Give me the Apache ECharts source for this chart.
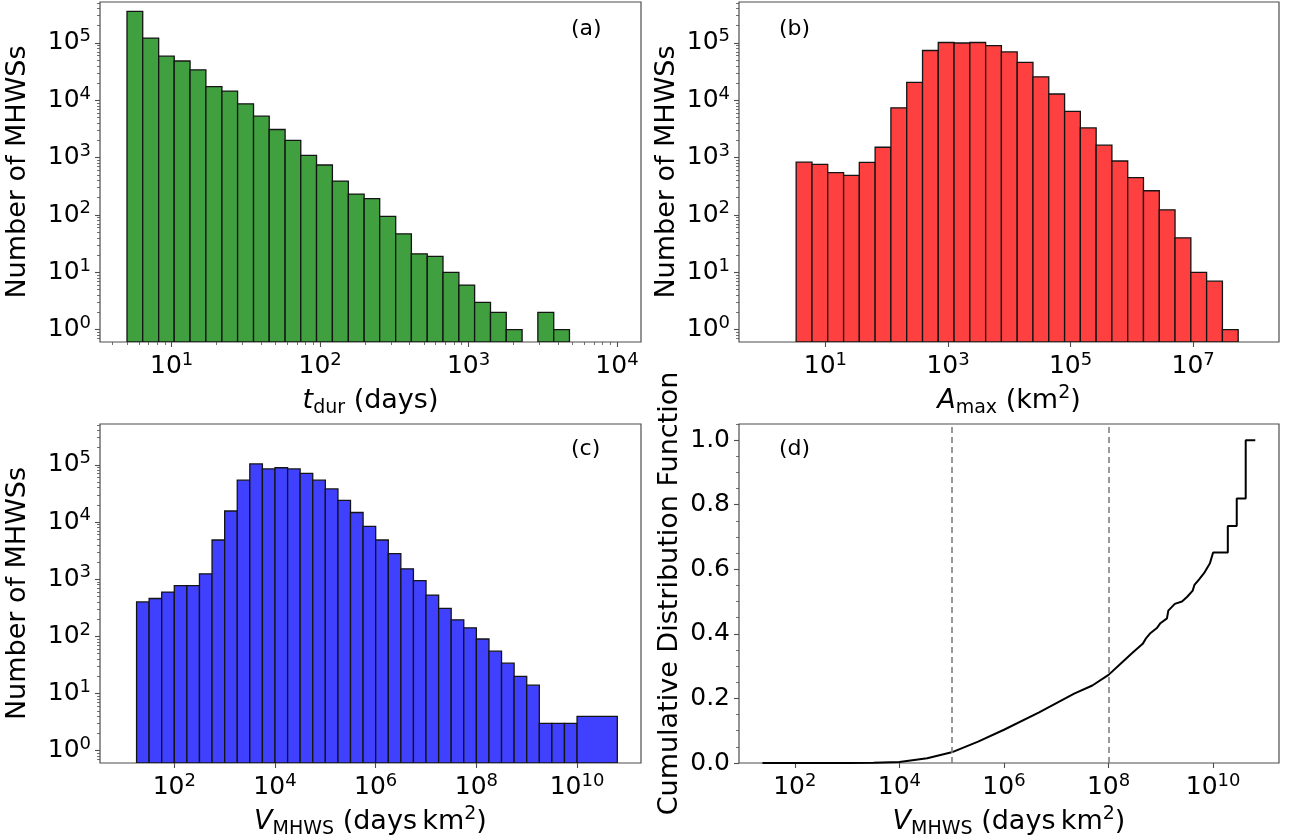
<!DOCTYPE html>
<html>
<head>
<meta charset="utf-8">
<script src="https://cdn.jsdelivr.net/npm/echarts@6.0.0/dist/echarts.min.js"></script>
<style>
html, body {margin:0; padding:0; background:#fff;}
#chart {width:1299px; height:840px;}
</style>
</head>
<body>
<div id="chart"></div>
<script>
// (a) duration histogram: bin edges (days) and counts
var durEdges = [5.0, 6.38, 8.17, 10.4, 13.3, 17.0, 21.8, 27.8, 35.6, 45.4, 58.1, 74.1, 94.6, 121, 155, 198,
    252, 323, 412, 527, 673, 861, 1099, 1406, 1795, 2296, 2931, 3750, 4786];
var durCounts = [356000, 122000, 59000, 48500, 34000, 17400, 14500, 8700, 5300, 3100, 2000, 1100, 745, 390,
    232, 193, 95, 47, 21, 19, 10, 6, 3, 2, 1, 0, 2, 1];

// (b) max area histogram (km2)
var areaEdges = [3.33, 6.04, 10.9, 19.8, 35.7, 64.7, 117, 212, 384, 693, 1256, 2270, 4111, 7430, 13450, 24320,
    44060, 79800, 144200, 261200, 472100, 855000, 1545000, 2799000, 5058000, 9162000, 16560000, 29990000, 54200000];
var areaCounts = [835, 765, 550, 492, 830, 1520, 7400, 20500, 74000, 102000, 100000, 102000, 90000, 70000, 46000,
    25700, 12900, 6400, 3300, 1650, 875, 450, 265, 123, 40, 10, 7, 1];

// (c) volume histogram (days km2)
var volEdges = [1.78e1, 3.16e1, 5.62e1, 1e2, 1.78e2, 3.16e2, 5.62e2, 1e3, 1.78e3, 3.16e3, 5.62e3, 1e4,
    1.78e4, 3.16e4, 5.62e4, 1e5, 1.78e5, 3.16e5, 5.62e5, 1e6, 1.78e6, 3.16e6, 5.62e6, 1e7, 1.78e7, 3.16e7,
    5.62e7, 1e8, 1.78e8, 3.16e8, 5.62e8, 1e9, 1.78e9, 3.16e9, 5.62e9, 1e10, 6.3e10];
var volCounts = [400, 460, 595, 775, 775, 1240, 4850, 15600, 54000, 104000, 85000, 89000, 85000, 71000, 54000,
    38000, 24000, 14700, 8400, 4850, 2800, 1520, 945, 527, 310, 195, 141, 90, 55, 34, 20, 14, 3, 3, 3, 4];

// (d) cumulative distribution of volume
var cdfX = [24, 1000, 3200, 1e4, 3.4e4, 1e5, 3.2e5, 1e6, 4.7e6, 2.2e7, 4.9e7, 1e8, 1.74e8, 2.8e8, 4.5e8,
    5.25e8, 6.3e8, 8.4e8, 9.8e8, 1.31e9, 1.39e9, 1.85e9, 2.54e9, 3.2e9, 4.07e9, 4.4e9, 5.4e9, 6.7e9, 8.7e9,
    1e10, 1.91e10, 1.91e10, 2.83e10, 2.83e10, 4.2e10, 4.2e10, 6.4e10];
var cdfY = [0, 0, 0.001, 0.003, 0.015, 0.033, 0.066, 0.103, 0.157, 0.215, 0.240, 0.273, 0.309, 0.340, 0.369,
    0.387, 0.402, 0.418, 0.433, 0.448, 0.472, 0.493, 0.500, 0.515, 0.534, 0.552, 0.569, 0.588, 0.619,
    0.652, 0.652, 0.734, 0.734, 0.819, 0.819, 1.0, 1.0];
var cdfMarks = [1e5, 1e8];

// tick values
var countTicks = [1, 10, 100, 1000, 10000, 100000];
var durTicks = [10, 100, 1000, 10000];
var areaTicks = [10, 1000, 100000, 10000000];
var volTicks = [100, 1e4, 1e6, 1e8, 1e10];
var cdfTicks = [0, 0.2, 0.4, 0.6, 0.8, 1.0];
var cdfMinor = [0.05, 0.1, 0.15, 0.25, 0.3, 0.35, 0.45, 0.5, 0.55, 0.65, 0.7, 0.75, 0.85, 0.9, 0.95, 1.05];

var FONT = 'DejaVu Sans';
var SPINE = '#4d4d4d';
var yLo = Math.pow(10, -0.215), yHi = Math.pow(10, 5.715);

function logMinor(lo, hi) {
    var out = [];
    for (var e = -1; e < 12; e++) {
        for (var m = 2; m < 10; m++) {
            var v = m * Math.pow(10, e);
            if (v > lo && v < hi) out.push(v);
        }
    }
    return out;
}

function logLabel(v) {
    return '10{sup|' + Math.round(Math.log10(v)) + '}';
}

var labelStyle = {
    color: '#000', fontFamily: FONT, fontSize: 25, lineHeight: 31, margin: 9,
    rich: {sup: {color: '#000', fontFamily: FONT, fontSize: 18, lineHeight: 18, verticalAlign: 'top'}}
};
var nameStyle = {
    color: '#000', fontFamily: FONT, fontSize: 27, lineHeight: 34,
    rich: {
        it: {color: '#000', fontFamily: FONT, fontSize: 27, fontStyle: 'italic', lineHeight: 34},
        sub: {color: '#000', fontFamily: FONT, fontSize: 19, lineHeight: 19, verticalAlign: 'bottom'},
        sup: {color: '#000', fontFamily: FONT, fontSize: 19, lineHeight: 19, verticalAlign: 'top'}
    }
};

function mainAxis(grid, type, min, max, ticks, fmt, name, gap, pos) {
    return {
        gridIndex: grid, type: type, min: min, max: max, position: pos,
        name: name, nameLocation: 'middle', nameGap: gap, nameMoveOverlap: false, nameTextStyle: nameStyle,
        axisLine: {show: false}, splitLine: {show: false},
        axisTick: {show: true, length: 5, customValues: ticks, lineStyle: {color: SPINE, width: 1.1}},
        axisLabel: Object.assign({customValues: ticks, formatter: fmt}, labelStyle)
    };
}
function minorAxis(grid, type, min, max, ticks, pos) {
    return {
        gridIndex: grid, type: type, min: min, max: max, position: pos,
        axisLine: {show: false}, splitLine: {show: false}, axisLabel: {show: false},
        axisTick: {show: true, length: 3, customValues: ticks, lineStyle: {color: SPINE, width: 0.8}}
    };
}

function hist(xi, yi, edges, counts, color) {
    var data = [];
    for (var i = 0; i < counts.length; i++) {
        if (counts[i] > 0) data.push([edges[i], edges[i + 1], counts[i]]);
    }
    return {
        type: 'custom', xAxisIndex: xi, yAxisIndex: yi, data: data, clip: true,
        encode: {x: [0, 1], y: 2},
        renderItem: function (params, api) {
            var p0 = api.coord([api.value(0), api.value(2)]);
            var p1 = api.coord([api.value(1), yLo]);
            return {
                type: 'rect',
                shape: {x: p0[0], y: p0[1], width: p1[0] - p0[0], height: p1[1] - p0[1]},
                style: {fill: color, stroke: '#141414', lineWidth: 1.3}
            };
        }
    };
}

var gridBase = {show: true, borderColor: SPINE, borderWidth: 1.2, backgroundColor: 'transparent', containLabel: false, outerBoundsMode: 'none'};
function panelTitle(txt, l, t) {
    return {text: txt, left: l, top: t, padding: 0,
        textStyle: {fontFamily: FONT, fontSize: 22, fontWeight: 'normal', color: '#000'}};
}

var cdfData = cdfX.map(function (x, i) { return [x, cdfY[i]]; });

var myChart = echarts.init(document.getElementById('chart'));
var option = {
    animation: false,
    backgroundColor: '#fff',
    title: [
        panelTitle('(a)', 571, 18),
        panelTitle('(b)', 779, 18),
        panelTitle('(c)', 571, 438),
        panelTitle('(d)', 779, 438)
    ],
    grid: [
        Object.assign({left: 100, top: 2, width: 541, height: 340}, gridBase),
        Object.assign({left: 739, top: 2, width: 540, height: 340}, gridBase),
        Object.assign({left: 100, top: 424, width: 541, height: 339}, gridBase),
        Object.assign({left: 739, top: 424, width: 540, height: 339}, gridBase)
    ],
    xAxis: [
        mainAxis(0, 'log', Math.pow(10, 0.517), Math.pow(10, 4.162), durTicks, logLabel, '{it|t}{sub|dur} (days)', 42, 'bottom'),
        minorAxis(0, 'log', Math.pow(10, 0.517), Math.pow(10, 4.162), logMinor(Math.pow(10, 0.517), Math.pow(10, 4.162)), 'bottom'),
        mainAxis(1, 'log', Math.pow(10, -0.41), Math.pow(10, 8.40), areaTicks, logLabel, '{it|A}{sub|max} (km{sup|2})', 42, 'bottom'),
        mainAxis(2, 'log', Math.pow(10, 0.524), Math.pow(10, 11.27), volTicks, logLabel, '{it|V}{sub|MHWS} (days\u2009km{sup|2})', 42, 'bottom'),
        mainAxis(3, 'log', Math.pow(10, 0.932), Math.pow(10, 11.26), volTicks, logLabel, '{it|V}{sub|MHWS} (days\u2009km{sup|2})', 42, 'bottom')
    ],
    yAxis: [
        mainAxis(0, 'log', yLo, yHi, countTicks, logLabel, 'Number of MHWSs', 65, 'left'),
        minorAxis(0, 'log', yLo, yHi, logMinor(yLo, yHi), 'left'),
        mainAxis(1, 'log', yLo, yHi, countTicks, logLabel, 'Number of MHWSs', 55, 'left'),
        minorAxis(1, 'log', yLo, yHi, logMinor(yLo, yHi), 'left'),
        mainAxis(2, 'log', yLo, yHi, countTicks, logLabel, 'Number of MHWSs', 65, 'left'),
        minorAxis(2, 'log', yLo, yHi, logMinor(yLo, yHi), 'left'),
        mainAxis(3, 'value', 0, 1.05, cdfTicks, function (v) { return v.toFixed(1); }, 'Cumulative Distribution Function', 52, 'left'),
        minorAxis(3, 'value', 0, 1.05, cdfMinor, 'left')
    ],
    series: [
        hist(0, 0, durEdges, durCounts, '#40a040'),
        hist(2, 2, areaEdges, areaCounts, '#ff4040'),
        hist(3, 4, volEdges, volCounts, '#4040ff'),
        {
            type: 'line', xAxisIndex: 4, yAxisIndex: 6, data: cdfData,
            showSymbol: false, symbol: 'none',
            lineStyle: {color: '#000', width: 2},
            markLine: {
                silent: true, symbol: ['none', 'none'], label: {show: false},
                lineStyle: {color: '#808080', type: [6, 4], width: 1.6},
                data: cdfMarks.map(function (v) { return {xAxis: v}; })
            }
        }
    ]
};
myChart.setOption(option);
</script>
</body>
</html>
